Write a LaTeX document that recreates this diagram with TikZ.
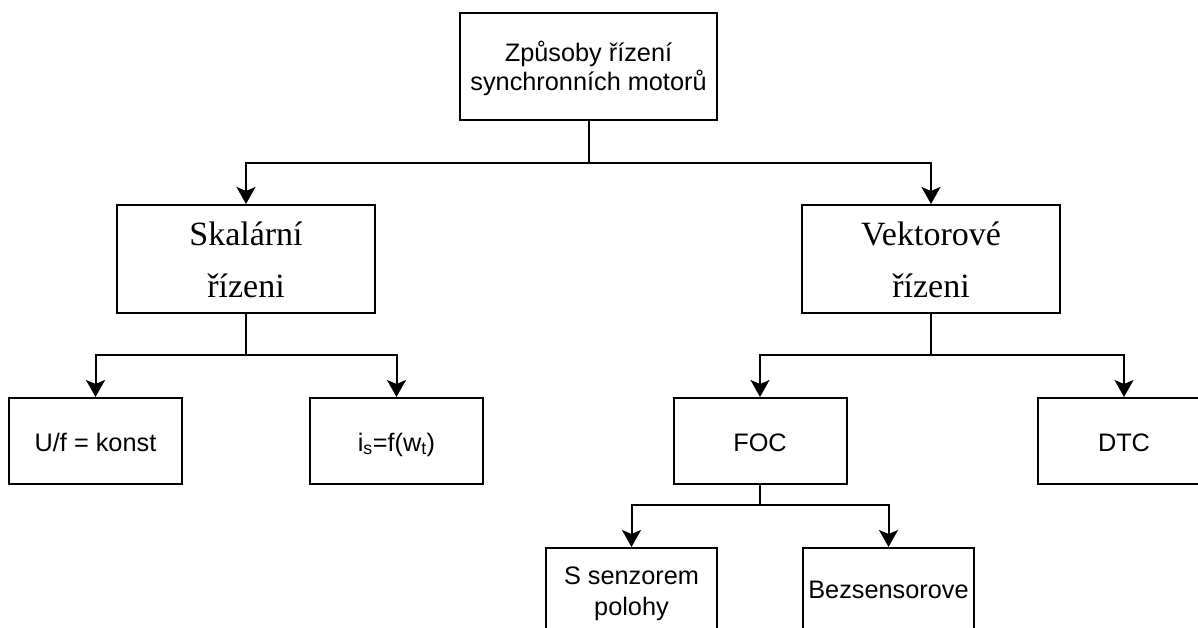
\documentclass[tikz,border=0pt]{standalone}
\usepackage{fontspec}
\setmainfont{Liberation Sans}
\newfontfamily\serifface{Liberation Serif}
\usetikzlibrary{arrows.meta}
\begin{document}
\begin{tikzpicture}[x=1pt,y=-1pt,
  box/.style={draw=black,line width=2pt,inner sep=0pt,minimum width=173pt,minimum height=86pt,align=center,font=\fontsize{25.3}{29}\selectfont},
  bigbox/.style={box,minimum width=258pt,minimum height=108pt,font=\serifface\fontsize{34}{52}\selectfont},
  conn/.style={line width=2pt,-{Stealth[length=17pt,width=19pt,inset=4pt]}},
  plain/.style={line width=2pt}]
\useasboundingbox (0,0) rectangle (1198,628);
\clip (0,0) rectangle (1198,628);
\node[box,minimum width=257pt,minimum height=107pt,text height=49pt,text depth=0pt] (top) at (588.5,66.5) {Způsoby řízení\\synchronních motorů};
\node[bigbox,text height=76pt,text depth=0pt] (sk) at (246,259) {Skalární\\řízeni};
\node[bigbox,text height=76pt,text depth=0pt] (vk) at (931,259) {Vektorové\\řízeni};
\node[box,text height=20pt,text depth=0pt] (uf) at (95.5,441) {U/f = konst};
\node[box,text height=20pt,text depth=0pt] (is) at (396.5,441) {i\textsubscript{s}=f(w\textsubscript{t})};
\node[box,text height=20pt,text depth=0pt] (foc) at (760,441) {FOC};
\node[box,text height=20pt,text depth=0pt] (dtc) at (1124,441) {DTC};
\node[box,minimum width=171pt,text height=48pt,text depth=0pt,font=\fontsize{25.3}{31}\selectfont] (ss) at (631.5,591) {S senzorem\\polohy};
\node[box,minimum width=171pt,text height=20pt,text depth=6pt] (bz) at (888.5,591) {Bezsensorove};
\coordinate (j1) at (588.5,163);
\coordinate (j2) at (246,355);
\coordinate (j3) at (931,355);
\coordinate (j4) at (760,505);
\draw[plain] (top.south) -- (j1);
\draw[conn] (j1) -| (sk.north);
\draw[conn] (j1) -| (vk.north);
\draw[plain] (sk.south) -- (j2);
\draw[conn] (j2) -| (uf.north);
\draw[conn] (j2) -| (is.north);
\draw[plain] (vk.south) -- (j3);
\draw[conn] (j3) -| (foc.north);
\draw[conn] (j3) -| (dtc.north);
\draw[plain] (foc.south) -- (j4);
\draw[conn] (j4) -| (ss.north);
\draw[conn] (j4) -| (bz.north);
\end{tikzpicture}
\end{document}
